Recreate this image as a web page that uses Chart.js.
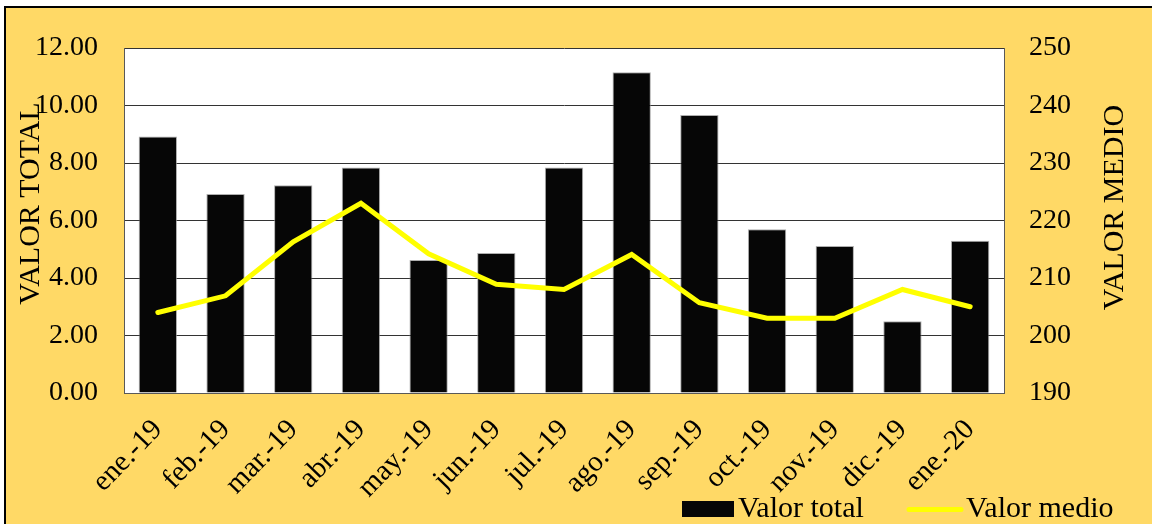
<!DOCTYPE html>
<html><head><meta charset="utf-8">
<script src="https://cdn.jsdelivr.net/npm/chart.js@4/dist/chart.umd.min.js"></script>
<style>
html,body{margin:0;padding:0;background:#fff;width:1152px;height:524px;overflow:hidden;}
#frame{position:absolute;left:4px;top:6px;width:1170px;height:560px;background:#FFD966;border:2px solid #000;}
#wrap{position:absolute;left:0;top:0;width:1152px;height:524px;}
</style></head><body>
<div id="frame"></div>
<div id="wrap"><canvas id="c" width="1152" height="524"></canvas></div>
<script>
const categories = ['ene.-19','feb.-19','mar.-19','abr.-19','may.-19','jun.-19','jul.-19','ago.-19','sep.-19','oct.-19','nov.-19','dic.-19','ene.-20'];
const valorTotal = [8.92, 6.92, 7.23, 7.84, 4.63, 4.87, 7.84, 11.16, 9.67, 5.70, 5.11, 2.50, 5.30];
const valorMedio = [204.0, 206.9, 216.3, 223.0, 214.2, 208.9, 208.0, 214.1, 205.7, 203.0, 203.0, 208.0, 205.0];
const leftTicks = [0, 2, 4, 6, 8, 10, 12];
const rightTicks = [190, 200, 210, 220, 230, 240, 250];
const leftTitle = 'VALOR TOTAL';
const rightTitle = 'VALOR MEDIO';

const FONT = "'Liberation Serif','Times New Roman',serif";
Chart.defaults.font.family = FONT;
Chart.defaults.color = '#000';

const plotBg = {
  id: 'plotBg',
  beforeDraw(chart) {
    const {ctx, chartArea: a} = chart;
    ctx.save();
    ctx.fillStyle = '#ffffff';
    ctx.fillRect(a.left, a.top, a.right - a.left, a.bottom - a.top);
    ctx.restore();
  }
};

const axisTitles = {
  id: 'axisTitles',
  afterDraw(chart) {
    const ctx = chart.ctx;
    const a = chart.chartArea;
    const midY = (a.top + a.bottom) / 2;
    ctx.save();
    ctx.font = '30px ' + FONT;
    ctx.fillStyle = '#000';
    ctx.textAlign = 'center';
    ctx.textBaseline = 'middle';
    [[leftTitle, 31, midY - 17], [rightTitle, 1115, midY - 13]].forEach(([t, x, y]) => {
      ctx.save();
      ctx.translate(x, y);
      ctx.rotate(-Math.PI / 2);
      ctx.fillText(t, 0, 0);
      ctx.restore();
    });
    ctx.restore();
  }
};

const customLegend = {
  id: 'customLegend',
  afterDraw(chart) {
    const ctx = chart.ctx;
    const ds = chart.data.datasets;
    const bar = ds.find(d => d.type === 'bar');
    const line = ds.find(d => d.type === 'line');
    ctx.save();
    ctx.font = '30px ' + FONT;
    ctx.textBaseline = 'alphabetic';
    ctx.textAlign = 'left';
    ctx.fillStyle = bar.backgroundColor;
    ctx.fillRect(682, 501, 52, 16);
    ctx.fillStyle = '#000';
    ctx.fillText(bar.label, 738, 517);
    ctx.strokeStyle = line.borderColor;
    ctx.lineWidth = 5;
    ctx.lineCap = 'round';
    ctx.beginPath();
    ctx.moveTo(909, 509.5);
    ctx.lineTo(961, 509.5);
    ctx.stroke();
    ctx.fillStyle = '#000';
    ctx.fillText(line.label, 966, 517);
    ctx.restore();
  }
};

new Chart(document.getElementById('c'), {
  data: {
    labels: categories,
    datasets: [
      {
        type: 'line',
        label: 'Valor medio',
        data: valorMedio,
        yAxisID: 'y1',
        borderColor: '#FFFF00',
        backgroundColor: '#FFFF00',
        borderWidth: 5,
        pointRadius: 0,
        tension: 0,
        borderCapStyle: 'round',
        order: 0
      },
      {
        type: 'bar',
        label: 'Valor total',
        data: valorTotal,
        yAxisID: 'y',
        backgroundColor: '#060606',
        borderColor: 'rgba(140,140,140,0.7)',
        borderWidth: 1,
        categoryPercentage: 1.0,
        barPercentage: 0.566,
        order: 1
      }
    ]
  },
  options: {
    responsive: false,
    devicePixelRatio: 1,
    animation: false,
    layout: { padding: { left: 0, right: 0, top: 48, bottom: 0 } },
    plugins: { legend: { display: false }, tooltip: { enabled: false } },
    scales: {
      x: {
        grid: { display: false, drawTicks: false },
        border: { display: true, color: '#595959', width: 1 },
        ticks: { minRotation: 46, maxRotation: 46, autoSkip: false, padding: 20, labelOffset: 0, font: { size: 29 }, color: '#000' },
        afterFit(s) { s.height = 131; }
      },
      y: {
        position: 'left',
        min: 0, max: 12,
        afterBuildTicks(s) { s.ticks = leftTicks.map(v => ({ value: v })); },
        grid: { color: '#333333', lineWidth: 1, drawTicks: false },
        border: { display: true, color: '#595959', width: 1 },
        ticks: { padding: 26, font: { size: 28 }, color: '#000', callback: v => Number(v).toFixed(2) },
        afterFit(s) { s.width = 124; }
      },
      y1: {
        position: 'right',
        min: 190, max: 250,
        afterBuildTicks(s) { s.ticks = rightTicks.map(v => ({ value: v })); },
        grid: { drawOnChartArea: false, drawTicks: false },
        border: { display: true, color: '#595959', width: 1 },
        ticks: { padding: 25, font: { size: 28 }, color: '#000' },
        afterFit(s) { s.width = 148; }
      }
    }
  },
  plugins: [plotBg, axisTitles, customLegend]
});
</script>
</body></html>
